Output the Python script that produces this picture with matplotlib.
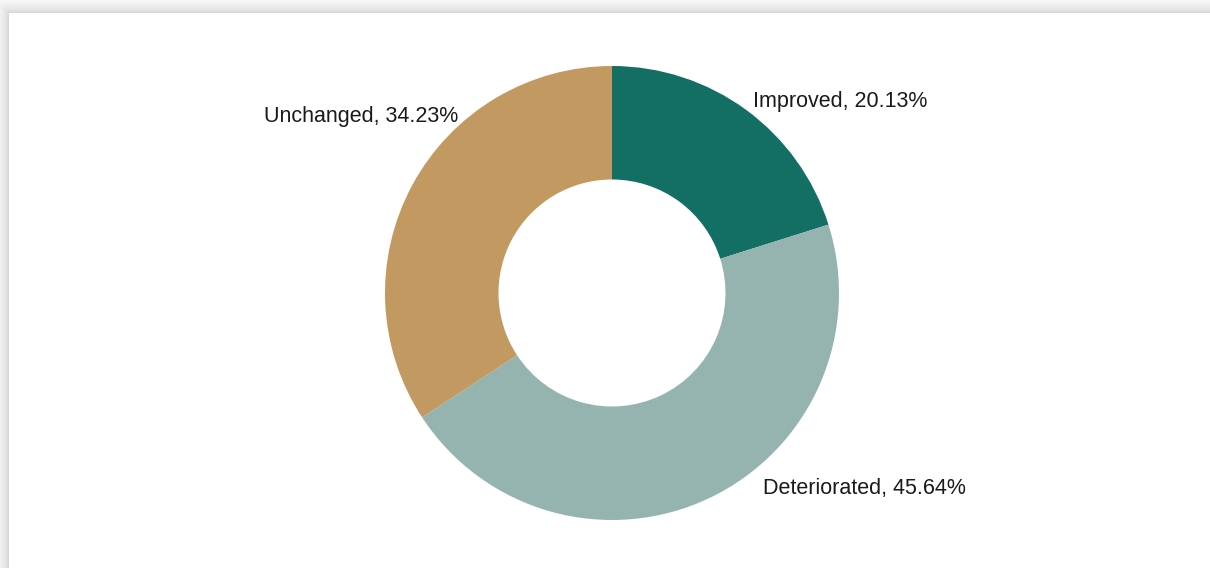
import numpy as np
import matplotlib
matplotlib.use("Agg")
import matplotlib.pyplot as plt

# share of cases by outcome
categories = ["Improved", "Deteriorated", "Unchanged"]
shares = [20.13, 45.64, 34.23]
colors = ["#136F63", "#95B4AF", "#C29A61"]

# label anchor offsets in pie units (x, y, ha)
label_pos = [(0.62, 0.845, "left"), (0.665, -0.862, "left"), (-0.678, 0.777, "right")]

W, H = 1210, 568
fig = plt.figure(figsize=(W / 100, H / 100), dpi=100)

# card background with a soft shadow along the top and left edges
bg = fig.add_axes([0, 0, 1, 1])
yy, xx = np.mgrid[0:H, 0:W]
card_x, card_y = 9, 13
d = np.maximum(card_x - xx, 0).astype(float)
d = np.maximum(d, card_y - yy)
shade = np.where(d > 0, 1 - 0.15 * np.exp(-(d - 1) / 8.0), 1.0)
bg.imshow(np.dstack([shade] * 3), extent=(0, W, H, 0), aspect="auto",
          interpolation="bilinear", vmin=0, vmax=1)
bg.set_axis_off()

ax = fig.add_axes([385 / W, 48 / H, 454 / W, 454 / H])
ax.pie(shares, colors=colors, startangle=90, counterclock=False,
       radius=1.0, wedgeprops=dict(width=0.5, linewidth=0))
ax.set_xlim(-1, 1)
ax.set_ylim(-1, 1)
ax.set_aspect("equal")
ax.set_axis_off()

for name, val, (x, y, ha) in zip(categories, shares, label_pos):
    ax.text(x, y, f"{name}, {val:.2f}%", ha=ha, va="center",
            fontsize=15.5, family="Liberation Sans", color="#1a1a1a",
            clip_on=False)

fig.savefig("out.png", dpi=100)
